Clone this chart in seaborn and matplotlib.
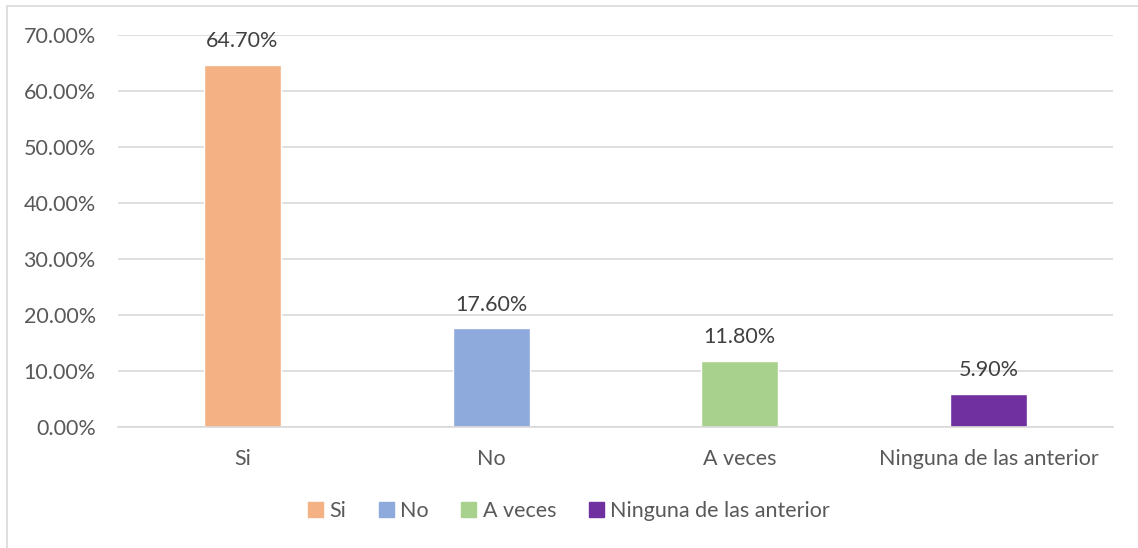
import matplotlib
matplotlib.use("Agg")
import matplotlib.pyplot as plt
import matplotlib.patches as mpatches
import seaborn as sns
import pandas as pd

categories = ["Si", "No", "A veces", "Ninguna de las anterior"]
values = [64.70, 17.60, 11.80, 5.90]
colors = ["#F4B183", "#8EA9DB", "#A9D18E", "#7030A0"]
yticks = [0, 10, 20, 30, 40, 50, 60, 70]

sns.set_style("white")
plt.rcParams["font.family"] = ["Lato", "DejaVu Sans"]
text_color = "#595959"
fs = 15.5

df = pd.DataFrame({"cat": categories, "val": values})

fig = plt.figure(figsize=(11.38, 5.48), dpi=100)
ax = fig.add_axes([0.1037, 0.2208, 0.8743, 0.7152])

sns.barplot(data=df, x="cat", y="val", hue="cat", palette=colors,
            width=0.31, legend=False, ax=ax, saturation=1)

ax.set_ylim(0, 70)
ax.set_yticks(yticks)
ax.set_yticklabels([f"{v:.2f}%" for v in yticks], fontsize=fs, color=text_color)
ax.set_xticks(range(len(categories)))
ax.set_xticklabels(categories, fontsize=fs, color=text_color)
ax.tick_params(axis="y", length=0, pad=16)
ax.tick_params(axis="x", length=0, pad=16)
ax.set_xlabel("")
ax.set_ylabel("")
ax.set_xlim(-0.5, 3.5)

ax.yaxis.grid(True, color="#D9D9D9", linewidth=1.2)
ax.set_axisbelow(True)
for s in ["left", "right", "top"]:
    ax.spines[s].set_visible(False)
ax.spines["bottom"].set_color("#D9D9D9")
ax.spines["bottom"].set_linewidth(1.2)

for i, v in enumerate(values):
    ax.annotate(f"{v:.2f}%", (i, v), xytext=(0, 10), textcoords="offset points",
                ha="center", va="bottom", fontsize=fs, color="#404040")

handles = [mpatches.Patch(color=c, label=l) for c, l in zip(colors, categories)]
fig.legend(handles=handles, loc="center", bbox_to_anchor=(0.5, 0.068), ncol=4,
           frameon=False, fontsize=fs, labelcolor=text_color,
           handlelength=0.7, handleheight=0.7, handletextpad=0.3, columnspacing=1.5)

border = mpatches.Rectangle((7 / 1138, -0.01), 1.02, 1 - 6 / 548 + 0.01,
                            transform=fig.transFigure, fill=False,
                            edgecolor="#D9D9D9", linewidth=1.2)
fig.patches.append(border)

fig.savefig("out.png", dpi=100)
